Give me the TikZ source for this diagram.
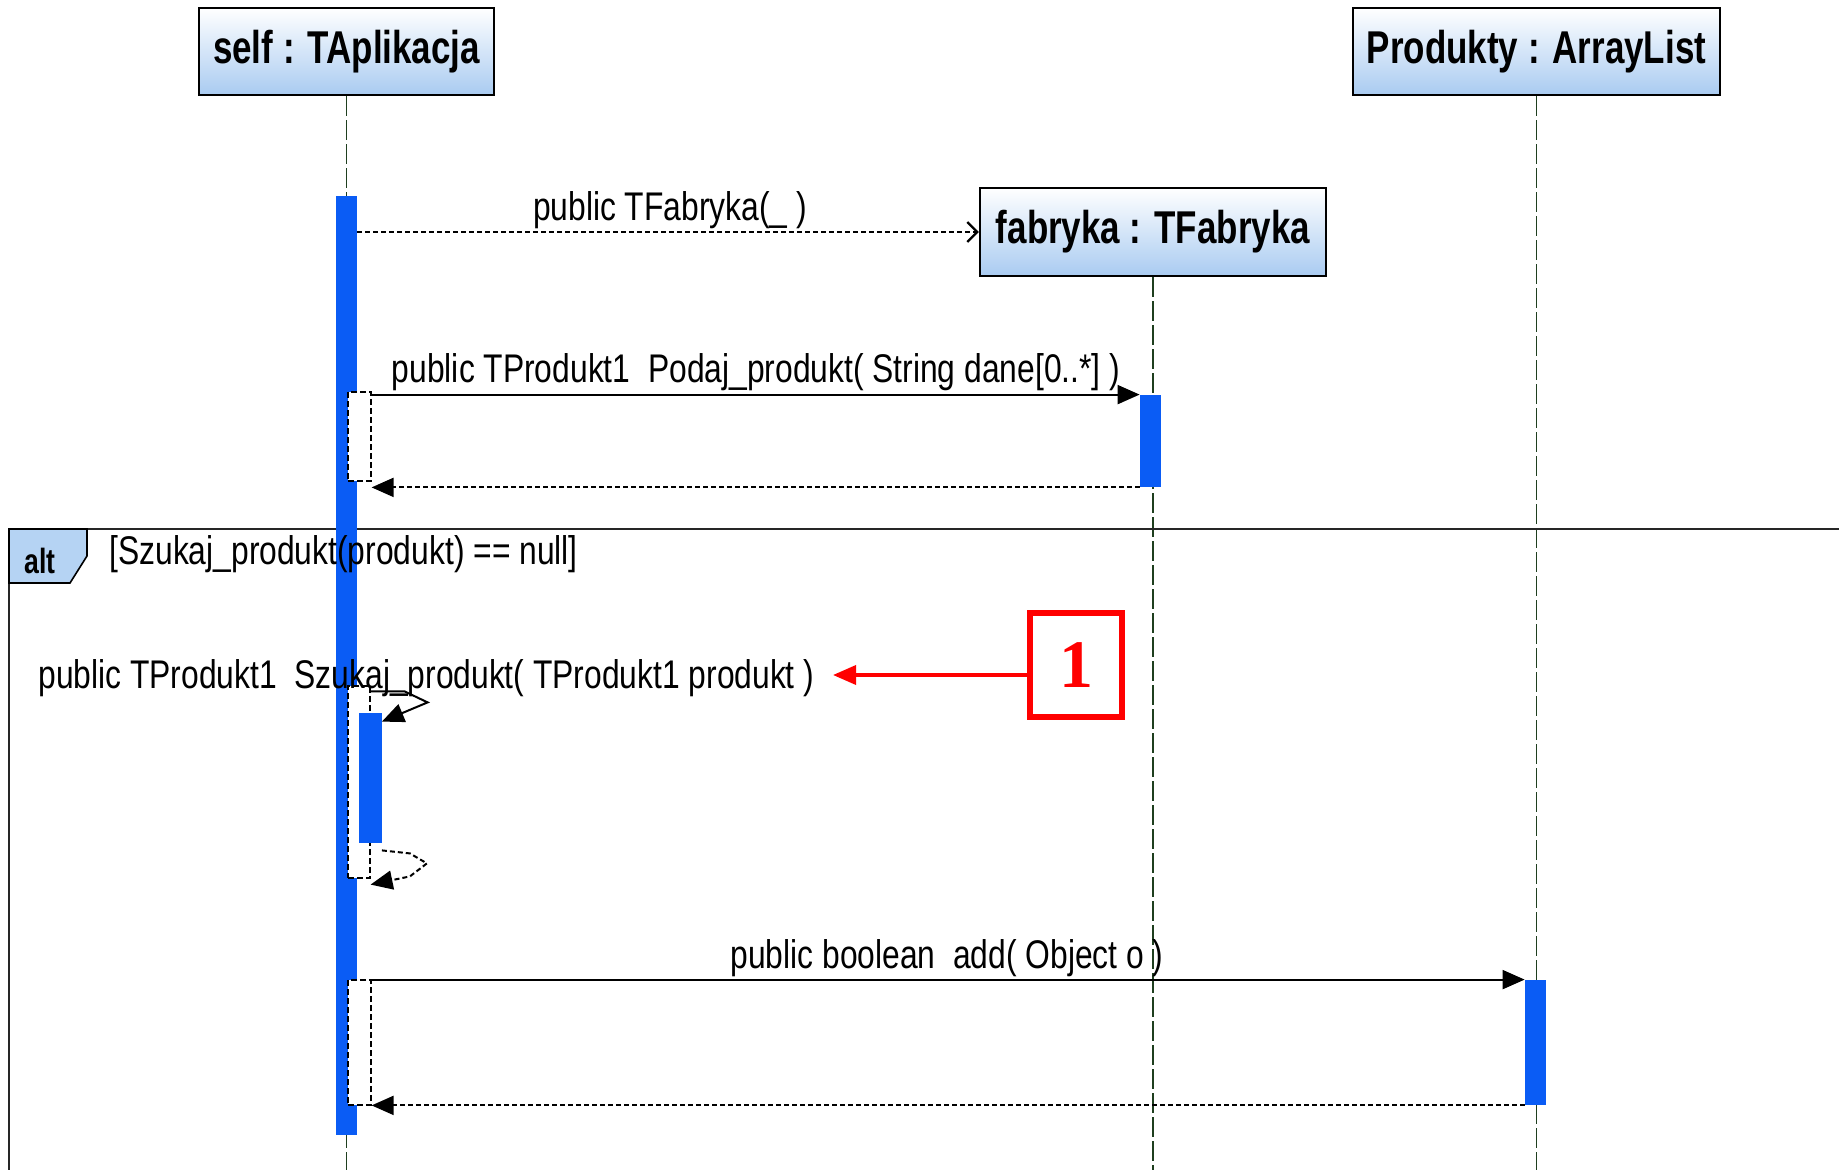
\documentclass[tikz,border=0pt]{standalone}
\usepackage{fontspec}
\usepackage{tikz}
\usetikzlibrary{arrows.meta}
\newfontfamily\umlfont[FakeStretch=0.795]{Liberation Sans}
\newfontfamily\umlbold[FakeStretch=0.76]{Liberation Sans Bold}
\newfontfamily\markfont{Liberation Serif Bold}
\definecolor{barblue}{HTML}{0A5CF5}
\definecolor{headblue}{HTML}{A9CBF1}
\definecolor{tagblue}{HTML}{B5D3F3}
\definecolor{lifegreen}{HTML}{1F3F1F}
\definecolor{markred}{HTML}{FF0000}

\begin{document}
\begin{tikzpicture}[x=0.5pt,y=-0.5pt,
  head/.style={draw,line width=1.2pt,top color=white,bottom color=headblue,inner sep=0pt,minimum height=43.5pt,font=\umlbold\fontsize{23}{26}\selectfont},
  lifeline/.style={lifegreen,line width=0.6pt,dash pattern=on 10pt off 2pt},
  bar/.style={fill=barblue,inner sep=0pt,minimum width=10.5pt},
  execbox/.style={draw,fill=white,line width=0.6pt,dash pattern=on 3pt off 1.5pt,inner sep=0pt,minimum width=11.5pt},
  msg/.style={line width=1pt,-{Triangle[length=11pt,width=9.5pt]}},
  reply/.style={msg,dash pattern=on 2.5pt off 1.5pt},
  create/.style={line width=1.1pt,dash pattern=on 2.5pt off 1.5pt,-{Straight Barb[length=5pt,width=10pt]}},
  lbl/.style={font=\umlfont\fontsize{20}{22}\selectfont,inner sep=0pt,anchor=base}]
\useasboundingbox (0,0) rectangle (1839,1170);
\node[head,minimum width=147.5pt] (selfhd) at (346.5,51.5) {self : TAplikacja};
\node[head,minimum width=183.5pt] (prodhd) at (1536.5,51.5) {Produkty : ArrayList};
\node[head,minimum width=173pt,minimum height=44pt] (fabhd) at (1153,232) {fabryka : TFabryka};
\draw[lifeline] (selfhd.south) -- ++(0,1085);
\draw[lifeline] (prodhd.south) -- ++(0,1085);
\draw[lifeline] (fabhd.south) -- ++(0,905);
% alt frame
\draw[line width=1pt,black!85] (9,1190) -- (9,529) -- (1860,529);
\draw[line width=0.8pt,fill=tagblue] (9,529) -- (87,529) -- (87,556) -- (70,583) -- (9,583) -- cycle;
\node[font=\umlbold\fontsize{17.5}{20}\selectfont,inner sep=0pt,anchor=base] (alttag) at (40,573) {alt};
\node[bar,minimum height=469.5pt] (selfbar) at (346.5,665.5) {};
\node[bar,minimum height=46pt] (fabbar) at (1150.5,441) {};
\node[bar,minimum height=62.5pt] (prodbar) at (1535.5,1042.5) {};
\node[execbox,minimum height=44.5pt] (exec1) at (359.5,436.5) {};
\node[execbox,minimum width=11pt,minimum height=96pt] (exec2) at (359,782) {};
\node[execbox,minimum height=62.5pt] (exec3) at (359.5,1042.5) {};
\node[bar,minimum width=11.5pt,minimum height=65pt] (nestbar) at (370,778) {};
\node[lbl,anchor=base west] (guard) at (109,564) {[Szukaj\_produkt(produkt) == null]};
% messages
\draw[create] (selfbar.east |- fabhd.west) -- (fabhd.west);
\node[lbl] (createlbl) at (670,221) {public TFabryka(\_ )};
\draw[msg] (exec1.east |- fabbar.north west) -- (fabbar.north west);
\node[lbl] (podajlbl) at (756,383) {public TProdukt1\ \ Podaj\_produkt( String dane[0..*] )};
\draw[reply] (fabbar.south west) -- (exec1.east |- fabbar.south west);
\draw[msg] ([yshift=-3pt]exec2.north east) -- ++(34,0) -- ++(23,11) -- ([yshift=-4.5pt]nestbar.north east);
\node[lbl,anchor=base west] (szukajlbl) at (38,688) {public TProdukt1\ \ Szukaj\_produkt( TProdukt1 produkt )};
\draw[reply] ([yshift=-3.5pt]nestbar.south east) -- ++(28,3) -- ++(17,10) -- ++(-17,13) -- ([yshift=-3pt]exec2.south east);
\draw[msg] (exec3.east |- prodbar.north west) -- (prodbar.north west);
\node[lbl] (addlbl) at (947,968) {public boolean\ \ add( Object o )};
\draw[reply] (prodbar.south west) -- (exec3.east |- prodbar.south west);
% marker
\node[draw=markred,line width=3pt,minimum width=46pt,minimum height=52pt,inner sep=0pt,text=markred,font=\markfont\fontsize{34}{34}\selectfont] (mark) at (1076,665) {1};
\coordinate (marktip) at (833,675);
\draw[markred,line width=1.8pt,-{Triangle[length=11.5pt,width=9.5pt]}] (mark.west |- marktip) -- (marktip);
\end{tikzpicture}
\end{document}
